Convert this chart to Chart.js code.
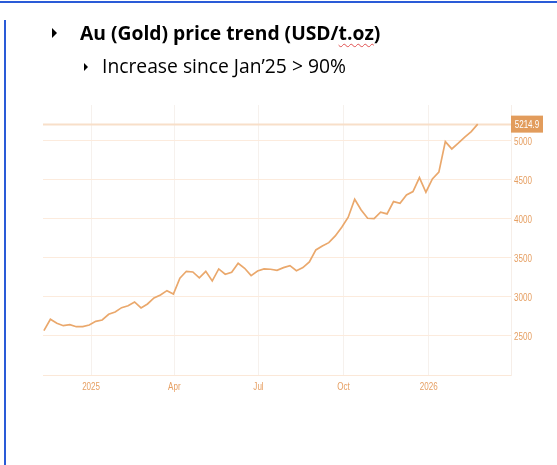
<!DOCTYPE html>
<html><head><meta charset="utf-8">
<script src="https://cdn.jsdelivr.net/npm/chart.js@4.4.1/dist/chart.umd.min.js"></script>
<style>
html,body{margin:0;padding:0;background:#fff;width:557px;height:465px;overflow:hidden;}
#wrap{position:relative;width:557px;height:465px;}
.topbar{position:absolute;left:0;top:1px;width:557px;height:2px;background:#2a5bd7;}
.leftbar{position:absolute;left:4px;top:20px;width:2px;height:445px;background:#2a5bd7;}
.tri{position:absolute;width:0;height:0;border-top:5.5px solid transparent;border-bottom:5.5px solid transparent;border-left:5.5px solid #000;}
.txt{position:absolute;white-space:nowrap;font-family:'Open Sans','Noto Sans',sans-serif;font-size:19.3px;line-height:19.3px;color:#000;}
.sq{text-decoration:underline wavy #e05050;text-decoration-thickness:1px;text-underline-offset:3px;}
canvas{position:absolute;left:0;top:0;}
</style></head>
<body><div id="wrap">
<canvas id="c" width="557" height="465"></canvas>
<div class="topbar"></div>
<div class="leftbar"></div>
<div class="tri" style="left:52px;top:28px;"></div>
<div class="txt" style="left:80px;top:22.5px;font-weight:bold;">Au (Gold) price trend (USD/<span class="sq">t.oz</span>)</div>
<div class="tri" style="left:84px;top:63px;border-top-width:4.5px;border-bottom-width:4.5px;border-left-width:4.8px;"></div>
<div class="txt" style="left:102px;top:56px;">Increase since Jan’25 &gt; 90%</div>
</div>
<script>
const categories = [
 "2024-11-11","2024-11-18","2024-11-25","2024-12-02","2024-12-09","2024-12-16","2024-12-23","2024-12-30",
 "2025-01-06","2025-01-13","2025-01-20","2025-01-27","2025-02-03","2025-02-10","2025-02-17","2025-02-24",
 "2025-03-03","2025-03-10","2025-03-17","2025-03-24","2025-03-31","2025-04-07","2025-04-14","2025-04-21",
 "2025-04-28","2025-05-05","2025-05-12","2025-05-19","2025-05-26","2025-06-02","2025-06-09","2025-06-16",
 "2025-06-23","2025-06-30","2025-07-07","2025-07-14","2025-07-21","2025-07-28","2025-08-04","2025-08-11",
 "2025-08-18","2025-08-25","2025-09-01","2025-09-08","2025-09-15","2025-09-22","2025-09-29","2025-10-06",
 "2025-10-13","2025-10-20","2025-10-27","2025-11-03","2025-11-10","2025-11-17","2025-11-24","2025-12-01",
 "2025-12-08","2025-12-15","2025-12-22","2025-12-29","2026-01-05","2026-01-12","2026-01-19","2026-01-26",
 "2026-02-02","2026-02-09","2026-02-16","2026-02-23"
];
const goldPrice = [
 2568,2714,2663,2632,2645,2619,2619,2641,
 2688,2705,2778,2808,2863,2888,2936,2859,
 2910,2987,3026,3081,3038,3240,3329,3320,
 3244,3329,3205,3359,3291,3317,3432,3368,
 3273,3333,3359,3355,3342,3376,3401,3337,
 3376,3449,3603,3654,3696,3782,3894,4022,
 4253,4115,4009,4004,4086,4064,4222,4201,
 4308,4350,4529,4342,4513,4599,4991,4897,
 4970,5047,5119,5214.9
];
const xTickDates = ["2025-01-01","2025-04-01","2025-07-01","2025-10-01","2026-01-01"];
const xTickLabels = ["2025","Apr","Jul","Oct","2026"];
const yTickValues = [2500,3000,3500,4000,4500,5000];
const xRange = ["2024-11-10","2026-03-31"];
const yRange = [2000,5460];

const DAY = 86400000;
const ORIGIN = Date.UTC(2025,0,1);
const toDay = s => (Date.parse(s + "T00:00:00Z") - ORIGIN) / DAY;

const LINE = "#eaa86c";
const LABEL = "#e69f62";
const FONT = "11.5px 'Liberation Sans', Arial, sans-serif";
const SQUEEZE = 0.7;

function narrowText(ctx, text, x, y, align){
  ctx.save();
  ctx.translate(x, y);
  ctx.scale(SQUEEZE, 1);
  ctx.textAlign = align;
  ctx.textBaseline = "middle";
  ctx.fillText(text, 0, 0);
  ctx.restore();
}

const labelsPlugin = {
  id: "labels",
  beforeDatasetsDraw(chart){
    const {ctx, chartArea, scales:{y}} = chart;
    const v = goldPrice[goldPrice.length-1];
    const py = Math.round(y.getPixelForValue(v)) + 0.5;
    ctx.save();
    ctx.strokeStyle = "#f8dfc9";
    ctx.lineWidth = 2;
    ctx.beginPath(); ctx.moveTo(chartArea.left, py); ctx.lineTo(chartArea.right, py); ctx.stroke();
    ctx.restore();
  },
  afterDraw(chart){
    const {ctx, chartArea, scales:{x, y}} = chart;
    ctx.save();
    ctx.font = FONT;
    ctx.fillStyle = LABEL;
    yTickValues.forEach(v => narrowText(ctx, String(v), chartArea.right + 3, y.getPixelForValue(v) + 0.5, "left"));
    xTickDates.forEach((d, i) => narrowText(ctx, xTickLabels[i], x.getPixelForValue(toDay(d)), chartArea.bottom + 12, "center"));
    const v = goldPrice[goldPrice.length-1];
    const py = y.getPixelForValue(v);
    ctx.fillStyle = "#e29c5c";
    ctx.fillRect(chartArea.right, py - 8.5, 32, 17);
    ctx.fillStyle = "#ffffff";
    narrowText(ctx, v.toFixed(1), chartArea.right + 16, py + 0.5, "center");
    ctx.restore();
  }
};

new Chart(document.getElementById("c"), {
  type: "line",
  data: {
    datasets: [{
      data: categories.map((d,i) => ({x: toDay(d), y: goldPrice[i]})),
      borderColor: LINE, borderWidth: 1.7, pointRadius: 0, tension: 0, fill: false
    }]
  },
  options: {
    responsive: false, animation: false, devicePixelRatio: 1,
    layout: {padding: {left: 43, top: 105, right: 0, bottom: 0}},
    plugins: {legend: {display: false}, tooltip: {enabled: false}},
    scales: {
      x: {
        type: "linear", min: toDay(xRange[0]), max: toDay(xRange[1]),
        afterBuildTicks: ax => { ax.ticks = xTickDates.map(d => ({value: toDay(d)})); },
        afterFit: ax => { ax.height = 90; },
        ticks: {display: false, autoSkip: false, maxRotation: 0},
        grid: {color: "#f6f1ed", drawTicks: false},
        border: {color: "#fbe8d8", width: 1}
      },
      y: {
        position: "right", min: yRange[0], max: yRange[1],
        afterBuildTicks: ax => { ax.ticks = yTickValues.map(v => ({value: v})); },
        afterFit: ax => { ax.width = 46; },
        ticks: {display: false},
        grid: {color: "#fcebdd", drawTicks: false},
        border: {color: "#f6eee8", width: 1}
      }
    }
  },
  plugins: [labelsPlugin]
});
</script>
</body></html>
